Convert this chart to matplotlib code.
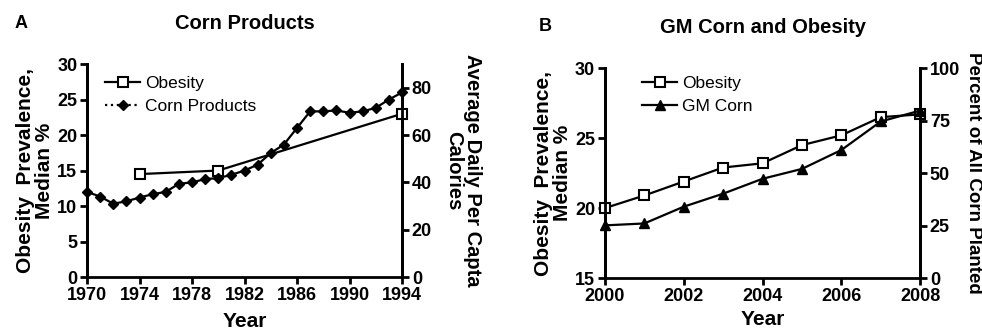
import matplotlib

matplotlib.use("Agg")
import matplotlib.pyplot as plt
from matplotlib.lines import Line2D

plt.rcParams["font.family"] = ["Liberation Sans", "DejaVu Sans"]
plt.rcParams["font.weight"] = "bold"
plt.rcParams["axes.labelweight"] = "bold"

# Panel A: corn products (right axis) vs obesity (left axis)
years_corn = list(range(1970, 1995))
corn_products = [36, 34, 31, 32, 33.6, 35, 36, 39.4, 40, 41.4, 41.8, 43.2, 45, 47.5,
                 52.4, 56, 63, 70, 70, 70.4, 69.4, 70, 71.5, 75, 78]
years_obesity_a = [1974, 1980, 1994]
obesity_a = [14.5, 15.0, 23.0]

# Panel B: GM corn (right axis) vs obesity (left axis)
years_b = list(range(2000, 2009))
obesity_b = [20.0, 20.9, 21.9, 22.9, 23.2, 24.5, 25.2, 26.5, 26.7]
gm_corn = [25.1, 26.0, 34.0, 40.2, 47.3, 52.0, 61.0, 74.6, 79.8]

TICK_FS = 13
LABEL_FS = 15
LW = 1.6
SQ = 7


def style_axes(ax, ax2):
    ax.spines["top"].set_visible(False)
    ax2.spines["top"].set_visible(False)
    for a in (ax, ax2):
        for side in ("left", "right", "bottom"):
            a.spines[side].set_linewidth(2.0)
        a.tick_params(axis="both", direction="out", length=5, width=2,
                      labelsize=TICK_FS, pad=2)
    ax2.spines["bottom"].set_visible(False)


fig = plt.figure(figsize=(9.82, 3.31), dpi=100)

# ---- Panel A
ax_a = fig.add_axes([0.0886, 0.163, 0.3208, 0.6435])
ax_a2 = ax_a.twinx()
ax_a.plot(years_obesity_a, obesity_a, color="black", linewidth=LW, marker="s",
          markersize=SQ, markerfacecolor="white", markeredgewidth=1.5, clip_on=False, zorder=3)
ax_a2.plot(years_corn, corn_products, color="black", linewidth=LW, marker="D",
           markersize=5, clip_on=False, zorder=3)
ax_a.set_xlim(1970, 1994)
ax_a.set_ylim(0, 30)
ax_a2.set_ylim(0, 90)
ax_a.set_xticks(range(1970, 1995, 4))
ax_a.set_yticks(range(0, 31, 5))
ax_a2.set_yticks(range(0, 81, 20))
style_axes(ax_a, ax_a2)
ax_a.set_xlabel("Year", fontsize=LABEL_FS, labelpad=6)
ax_a.set_ylabel("Obesity  Prevalence,\nMedian %", fontsize=LABEL_FS, labelpad=2,
                linespacing=1.0)
ax_a2.set_ylabel("Average Daily Per Capta\nCalories", fontsize=14.5, rotation=270,
                 labelpad=36, linespacing=1.0)
ax_a.set_title("Corn Products", fontsize=14.5, fontweight="bold", pad=25)
handles_a = [
    Line2D([], [], color="black", linewidth=LW, marker="s", markersize=SQ,
           markerfacecolor="white", markeredgewidth=1.5),
    Line2D([], [], color="black", linewidth=LW, linestyle=":", marker="D", markersize=5),
]
ax_a2.legend(handles_a, ["Obesity", "Corn Products"], loc="upper left", frameon=False,
             prop={"size": 12.5, "weight": "normal"}, handlelength=2.0,
             handletextpad=0.3, borderaxespad=0.3, labelspacing=0.45,
             bbox_to_anchor=(0.02, 1.0))
fig.text(0.015, 0.915, "A", fontsize=13, fontweight="bold")

# ---- Panel B
ax_b = fig.add_axes([0.616, 0.160, 0.321, 0.634])
ax_b2 = ax_b.twinx()
ax_b.plot(years_b, obesity_b, color="black", linewidth=LW, marker="s",
          markersize=SQ, markerfacecolor="white", markeredgewidth=1.5, clip_on=False, zorder=3)
ax_b2.plot(years_b, gm_corn, color="black", linewidth=LW, marker="^",
           markersize=7, clip_on=False, zorder=3)
ax_b.set_xlim(2000, 2008)
ax_b.set_ylim(15, 30)
ax_b2.set_ylim(0, 100)
ax_b.set_xticks(range(2000, 2009, 2))
ax_b.set_yticks(range(15, 31, 5))
ax_b2.set_yticks(range(0, 101, 25))
style_axes(ax_b, ax_b2)
ax_b.set_xlabel("Year", fontsize=LABEL_FS, labelpad=4)
ax_b.set_ylabel("Obesity  Prevalence,\nMedian %", fontsize=LABEL_FS, labelpad=2,
                linespacing=1.0)
ax_b2.set_ylabel("Percent of All Corn Planted", fontsize=13.5, rotation=270,
                 labelpad=16)
ax_b.set_title("GM Corn and Obesity", fontsize=14.5, fontweight="bold", pad=25)
handles_b = [
    Line2D([], [], color="black", linewidth=LW, marker="s", markersize=SQ,
           markerfacecolor="white", markeredgewidth=1.5),
    Line2D([], [], color="black", linewidth=LW, marker="^", markersize=7),
]
ax_b2.legend(handles_b, ["Obesity", "GM Corn"], loc="upper left", frameon=False,
             prop={"size": 12.5, "weight": "normal"}, handlelength=2.0,
             handletextpad=0.3, borderaxespad=0.3, labelspacing=0.45,
             bbox_to_anchor=(0.08, 1.02))
fig.text(0.549, 0.905, "B", fontsize=13, fontweight="bold")

fig.savefig("out.png", dpi=100)
